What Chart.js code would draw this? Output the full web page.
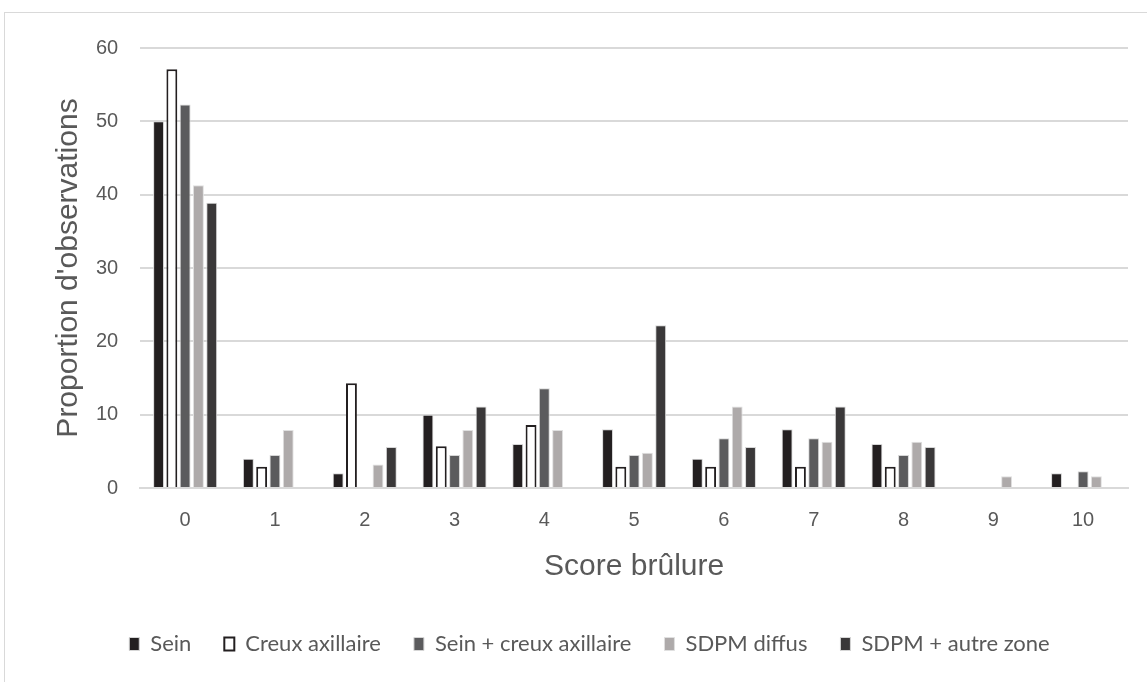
<!DOCTYPE html>
<html>
<head>
<meta charset="utf-8">
<script src="https://cdn.jsdelivr.net/npm/chart.js@4"></script>
<style>
  html, body { margin: 0; padding: 0; background: #fff; }
  #frame {
    position: absolute; left: 4px; top: 12px; width: 1200px; height: 700px;
    border: 1px solid #d9d9d9; box-sizing: border-box;
  }
  #wrap { position: absolute; left: 0; top: 0; width: 1147px; height: 682px; }
</style>
</head>
<body>
<div id="frame"></div>
<div id="wrap"><canvas id="chart"></canvas></div>
<script>
// Score brûlure distribution by zone
const scores = ['0', '1', '2', '3', '4', '5', '6', '7', '8', '9', '10'];
const sein = [50, 4, 2, 10, 6, 8, 4, 8, 6, 0, 2];
const creuxAxillaire = [57.1, 2.9, 14.3, 5.7, 8.6, 2.9, 2.9, 2.9, 2.9, 0, 0];
const seinCreux = [52.3, 4.5, 0, 4.5, 13.6, 4.5, 6.8, 6.8, 4.5, 0, 2.3];
const sdpmDiffus = [41.3, 7.9, 3.2, 7.9, 7.9, 4.8, 11.1, 6.3, 6.3, 1.6, 1.6];
const sdpmAutre = [38.9, 0, 5.6, 11.1, 0, 22.2, 5.6, 11.1, 5.6, 0, 0];
const yTicks = [0, 10, 20, 30, 40, 50, 60];

const textGrey = '#595959';
const gridGrey = '#d9d9d9';

function series(label, data, fill, border, width) {
  return {
    label,
    data,
    backgroundColor: fill,
    borderColor: border,
    borderWidth: width,
    categoryPercentage: 0.74,
    barPercentage: 0.82
  };
}

new Chart(document.getElementById('chart').getContext('2d'), {
  type: 'bar',
  data: {
    labels: scores,
    datasets: [
      series('Sein', sein, '#231f20', '#d6d6d6', 1),
      series('Creux axillaire', creuxAxillaire, '#ffffff', '#231f20', 2),
      series('Sein + creux axillaire', seinCreux, '#5b5b5d', '#d6d6d6', 1),
      series('SDPM diffus', sdpmDiffus, '#aeaaaa', '#e0e0e0', 1),
      series('SDPM + autre zone', sdpmAutre, '#3a3839', '#d6d6d6', 1)
    ]
  },
  options: {
    responsive: true,
    maintainAspectRatio: false,
    animation: false,
    layout: { padding: { left: 51, right: 19, top: 48, bottom: 17 } },
    plugins: {
      tooltip: { enabled: false },
      legend: {
        position: 'bottom',
        labels: {
          color: textGrey,
          font: { family: 'Lato, "Open Sans", sans-serif', size: 22 },
          boxWidth: 10,
          boxHeight: 13,
          padding: 33
        }
      }
    },
    scales: {
      x: {
        grid: { display: false, drawTicks: false },
        border: { color: gridGrey, width: 2 },
        ticks: {
          color: textGrey,
          font: { family: '"Liberation Sans", Arial, sans-serif', size: 20 },
          padding: 20
        },
        title: {
          display: true,
          text: 'Score brûlure',
          color: textGrey,
          font: { family: '"Liberation Sans", Arial, sans-serif', size: 30 },
          padding: { top: -3, bottom: 15 }
        }
      },
      y: {
        min: 0,
        max: 60,
        afterBuildTicks: axis => { axis.ticks = yTicks.map(v => ({ value: v })); },
        grid: { color: gridGrey, lineWidth: 2, drawTicks: false },
        border: { display: false },
        ticks: {
          color: textGrey,
          font: { family: '"Liberation Sans", Arial, sans-serif', size: 20 },
          padding: 22
        },
        title: {
          display: true,
          text: "Proportion d'observations",
          color: textGrey,
          font: { family: '"Liberation Sans", Arial, sans-serif', size: 30 },
          padding: { top: 0, bottom: -13 }
        }
      }
    }
  }
});
</script>
</body>
</html>
